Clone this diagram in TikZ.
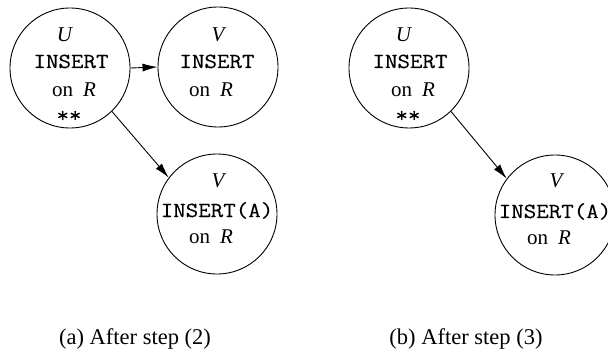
\documentclass[tikz,border=0pt]{standalone}
\usepackage{fontspec}
\setmainfont{Liberation Serif}
\setmonofont[FakeStretch=1.13,FakeBold=0.3]{Latin Modern Mono}
\usetikzlibrary{arrows.meta}
\begin{document}
\begin{tikzpicture}[x=1pt,y=-1pt,
  txn/.style={circle,draw,line width=0.9pt,minimum size=120pt,inner sep=0pt},
  lbl/.style={anchor=base,inner sep=0pt,font=\fontsize{21}{21}\selectfont},
  ops/.style={anchor=base,inner sep=0pt,font=\fontsize{21.5}{21.5}\selectfont\ttfamily},
  captext/.style={anchor=base,inner sep=0pt,font=\fontsize{22.5}{22.5}\selectfont},
  arr/.style={line width=0.9pt,-{Latex[length=15pt,width=8pt]}}]
\useasboundingbox (0,0) rectangle (608,350);
% panel (a)
\node[txn] (aU) at (70,68) {};
\node[txn] (aV) at (218,67) {};
\node[txn] (aW) at (217,214) {};
\node[lbl] (aU1) at (65,42) {\textit{U}};
\node[ops] (aU2) at (71,68) {INSERT};
\node[lbl] (aU3) at (74,97) {on\hspace{10pt}\textit{R}};
\node[ops] (aU4) at (69,122) {**};
\node[lbl] (aV1) at (219,42) {\textit{V}};
\node[ops] (aV2) at (217,68) {INSERT};
\node[lbl] (aV3) at (211,97) {on\hspace{10pt}\textit{R}};
\node[lbl] (aW1) at (219,187) {\textit{V}};
\node[ops] (aW2) at (217,217) {INSERT(A)};
\node[lbl] (aW3) at (211,243) {on\hspace{10pt}\textit{R}};
\draw[arr] (aU.0) -- (aV.180);
\draw[arr] (aU.-46) -- (aW.143);
\node[captext] (capa) at (135,344) {(a) After step (2)};
% panel (b)
\node[txn] (bU) at (409,68) {};
\node[txn] (bW) at (555,215) {};
\node[lbl] (bU1) at (404,42) {\textit{U}};
\node[ops] (bU2) at (410,68) {INSERT};
\node[lbl] (bU3) at (413,97) {on\hspace{10pt}\textit{R}};
\node[ops] (bU4) at (408,122) {**};
\node[lbl] (bW1) at (557,188) {\textit{V}};
\node[ops] (bW2) at (555,218) {INSERT(A)};
\node[lbl] (bW3) at (549,244) {on\hspace{10pt}\textit{R}};
\draw[arr] (bU.-46) -- (bW.143);
\node[captext] (capb) at (466,344) {(b) After step (3)};
\end{tikzpicture}
\end{document}
